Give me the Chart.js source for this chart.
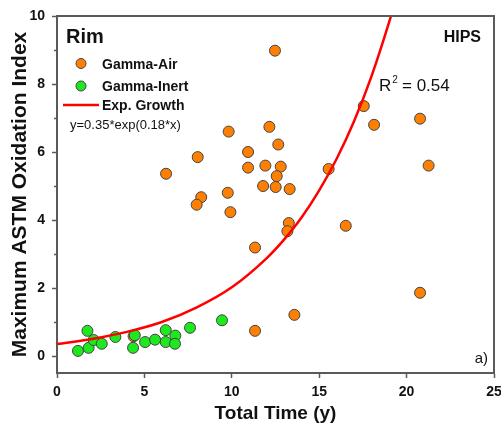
<!DOCTYPE html>
<html>
<head>
<meta charset="utf-8">
<script src="https://cdn.jsdelivr.net/npm/chart.js@4"></script>
<style>
  html, body { margin: 0; padding: 0; background: #fff; }
  #wrap { width: 501px; height: 434px; }
</style>
</head>
<body>
<div id="wrap"><canvas id="rimChart" width="501" height="434"></canvas></div>
<script>
// Gamma-Air (orange)
const airX = [6.24, 8.05, 8.25, 7.99, 9.82, 9.77, 9.92, 10.93, 10.93, 12.47, 12.15, 12.66, 11.92, 12.8, 12.57,
              11.79, 12.51, 13.31, 13.26, 13.18, 11.33, 17.55, 18.14, 20.77, 21.26, 15.54, 16.52, 20.77, 13.58, 11.33, 4.38];
const airY = [5.36, 5.85, 4.67, 4.45, 6.6, 4.8, 4.23, 6.0, 5.54, 8.98, 6.74, 6.22, 5.6, 5.57, 5.29,
              5.0, 4.97, 4.91, 3.91, 3.67, 3.19, 7.35, 6.8, 6.98, 5.6, 5.5, 3.83, 1.86, 1.21, 0.74, 0.58];
// Gamma-Inert (green)
const inertX = [1.2, 1.74, 1.81, 2.1, 2.56, 3.34, 4.45, 4.35, 5.04, 5.61, 6.22, 6.22, 6.77, 6.75, 7.61, 9.44];
const inertY = [0.15, 0.74, 0.24, 0.47, 0.36, 0.56, 0.61, 0.24, 0.41, 0.48, 0.76, 0.41, 0.6, 0.36, 0.83, 1.05];
// Exp. Growth fit
const fitX = [0, 2, 4, 6, 8, 10, 12, 13, 14, 15, 16, 17, 18, 19, 19.5, 20];
const fitY = [0.35, 0.5, 0.71, 1.0, 1.43, 2.02, 2.88, 3.43, 4.08, 4.87, 5.8, 6.91, 8.24, 9.82, 10.7, 11.7];
// axis ticks
const xTicks = [0, 5, 10, 15, 20, 25];
const yTicks = [0, 2, 4, 6, 8, 10];
const yMinor = [1, 3, 5, 7, 9];

const FONT = '"Liberation Sans", Arial, sans-serif';
const AXIS = '#5a5a5a';
const ORANGE = '#ff8000';
const GREEN = '#1ee81e';

function toPoints(xs, ys) {
    return xs.map((x, i) => ({ x: x, y: ys[i] }));
}

// frame, minor ticks, legend and notes drawn on the canvas
const extras = {
    id: 'extras',
    afterDraw(chart) {
        const ctx = chart.ctx;
        const area = chart.chartArea;
        const yScale = chart.scales.y;
        ctx.save();

        // top and right frame
        ctx.strokeStyle = AXIS;
        ctx.lineWidth = 2;
        ctx.beginPath();
        ctx.moveTo(area.left, area.top);
        ctx.lineTo(area.right, area.top);
        ctx.lineTo(area.right, area.bottom);
        ctx.stroke();

        // minor y ticks
        ctx.lineWidth = 1.5;
        yMinor.forEach(v => {
            const py = Math.round(yScale.getPixelForValue(v)) + 0.5;
            ctx.beginPath();
            ctx.moveTo(area.left - 3, py);
            ctx.lineTo(area.left, py);
            ctx.stroke();
        });

        ctx.fillStyle = '#111';
        ctx.textBaseline = 'alphabetic';

        ctx.font = 'bold 20px ' + FONT;
        ctx.textAlign = 'left';
        ctx.fillText('Rim', 66, 43);

        ctx.font = 'bold 16px ' + FONT;
        ctx.textAlign = 'right';
        ctx.fillText('HIPS', 481, 42);

        // R² label
        ctx.font = '17px ' + FONT;
        ctx.textAlign = 'left';
        ctx.fillText('R', 379, 91);
        const rw = ctx.measureText('R').width;
        ctx.font = '10px ' + FONT;
        ctx.fillText('2', 379 + rw + 1, 83);
        ctx.font = '17px ' + FONT;
        ctx.fillText(' = 0.54', 379 + rw + 6, 91);

        ctx.font = '15px ' + FONT;
        ctx.textAlign = 'right';
        ctx.fillText('a)', 488, 363);

        // legend
        ctx.lineWidth = 1;
        ctx.strokeStyle = '#444';
        ctx.fillStyle = ORANGE;
        ctx.beginPath();
        ctx.arc(81, 63.5, 5, 0, Math.PI * 2);
        ctx.fill();
        ctx.stroke();
        ctx.fillStyle = GREEN;
        ctx.beginPath();
        ctx.arc(81, 86, 5, 0, Math.PI * 2);
        ctx.fill();
        ctx.stroke();
        ctx.strokeStyle = '#ff0000';
        ctx.lineWidth = 2.5;
        ctx.beginPath();
        ctx.moveTo(63, 105);
        ctx.lineTo(99, 105);
        ctx.stroke();

        ctx.fillStyle = '#111';
        ctx.textAlign = 'left';
        ctx.font = 'bold 14px ' + FONT;
        ctx.fillText('Gamma-Air', 102, 69);
        ctx.fillText('Gamma-Inert', 102, 91);
        ctx.fillText('Exp. Growth', 102, 110);
        ctx.font = '13px ' + FONT;
        ctx.fillText('y=0.35*exp(0.18*x)', 70, 129);

        ctx.restore();
    }
};

const ctx = document.getElementById('rimChart').getContext('2d');
const rimChart = new Chart(ctx, {
    type: 'scatter',
    data: {
        datasets: [
            {
                label: 'Exp. Growth',
                type: 'line',
                data: toPoints(fitX, fitY),
                borderColor: '#ff0000',
                borderWidth: 2.5,
                pointRadius: 0,
                cubicInterpolationMode: 'monotone',
                fill: false,
                order: 0
            },
            {
                label: 'Gamma-Inert',
                data: toPoints(inertX, inertY),
                backgroundColor: GREEN,
                borderColor: '#444',
                borderWidth: 1,
                pointRadius: 5.5,
                order: 1
            },
            {
                label: 'Gamma-Air',
                data: toPoints(airX, airY),
                backgroundColor: ORANGE,
                borderColor: '#444',
                borderWidth: 1,
                pointRadius: 5.5,
                order: 2
            }
        ]
    },
    options: {
        responsive: false,
        animation: false,
        layout: { padding: { top: 16, right: 7, left: 0, bottom: 0 } },
        plugins: {
            legend: { display: false },
            tooltip: { enabled: false }
        },
        scales: {
            x: {
                type: 'linear',
                min: 0,
                max: 25,
                afterBuildTicks: scale => { scale.ticks = xTicks.map(v => ({ value: v })); },
                afterFit: scale => {
                    scale.height = 61;
                    scale.paddingLeft = 0;
                    scale.paddingRight = 0;
                },
                ticks: {
                    font: { family: FONT, size: 14, weight: 'bold' },
                    color: '#111',
                    padding: 6,
                    maxRotation: 0
                },
                grid: { drawOnChartArea: false, drawTicks: true, tickLength: 5, color: AXIS, tickWidth: 1.5 },
                border: { color: AXIS, width: 2 },
                title: {
                    display: true,
                    text: 'Total Time (y)',
                    font: { family: FONT, size: 19, weight: 'bold' },
                    color: '#111',
                    padding: { top: 0, bottom: 9 }
                }
            },
            y: {
                type: 'linear',
                min: -0.5,
                max: 10,
                afterBuildTicks: scale => { scale.ticks = yTicks.map(v => ({ value: v })); },
                afterFit: scale => { scale.width = 57; },
                ticks: {
                    font: { family: FONT, size: 14, weight: 'bold' },
                    color: '#111',
                    padding: 7
                },
                grid: { drawOnChartArea: false, drawTicks: true, tickLength: 5, color: AXIS, tickWidth: 1.5 },
                border: { color: AXIS, width: 2 },
                title: {
                    display: true,
                    text: 'Maximum ASTM Oxidation Index',
                    font: { family: FONT, size: 21, weight: 'bold' },
                    color: '#111',
                    padding: { top: 8, bottom: 0 }
                }
            }
        }
    },
    plugins: [extras]
});
</script>
</body>
</html>
